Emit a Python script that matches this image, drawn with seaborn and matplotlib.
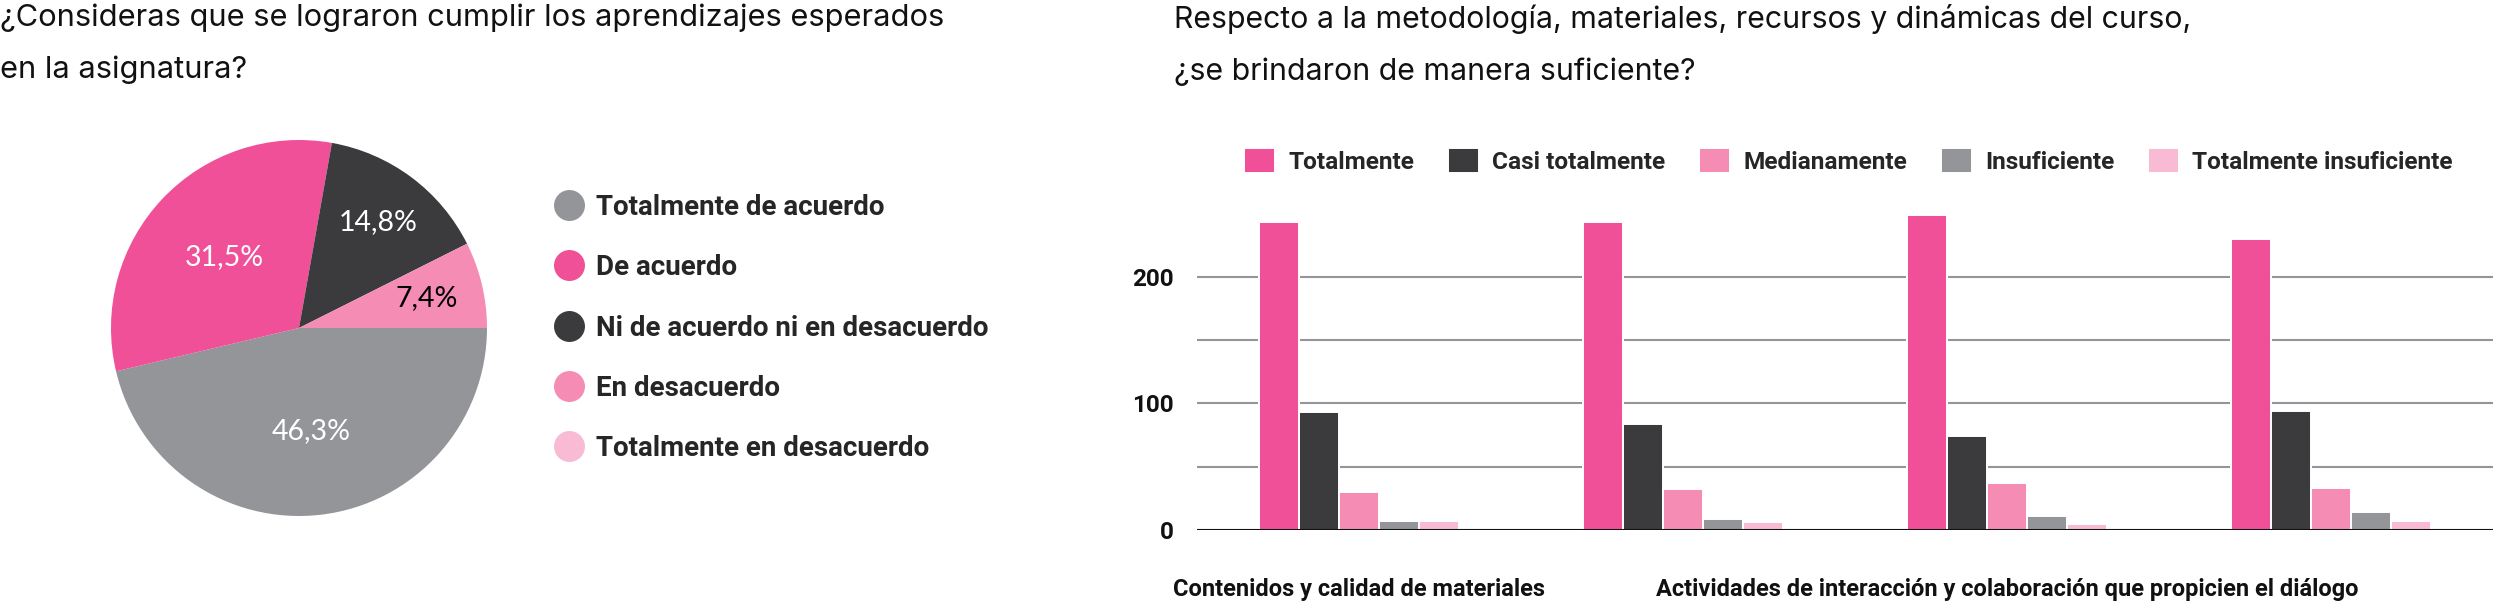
import numpy as np
import pandas as pd
import matplotlib.pyplot as plt
import seaborn as sns
from matplotlib.lines import Line2D

sns.set_style("white")
plt.rcParams["font.family"] = ["Inter", "DejaVu Sans"]

# ---------------------------------------------------------------
# Data: pie (aprendizajes esperados)
# ---------------------------------------------------------------
pie_title = "¿Consideras que se lograron cumplir los aprendizajes esperados\nen la asignatura?"
pie_labels = ["Totalmente de acuerdo", "De acuerdo", "Ni de acuerdo ni en desacuerdo",
              "En desacuerdo", "Totalmente en desacuerdo"]
pie_pct = [46.3, 31.5, 14.8, 7.4, 0.0]
pie_colors = ["#939598", "#EF5098", "#3B3B3D", "#F48CB4", "#F8BBD3"]
pie_text_colors = ["white", "white", "white", "black", "black"]

# ---------------------------------------------------------------
# Data: bars (metodologia, materiales, recursos y dinamicas)
# ---------------------------------------------------------------
bar_title = "Respecto a la metodología, materiales, recursos y dinámicas del curso,\n¿se brindaron de manera suficiente?"
aspectos = ["Contenidos y calidad de materiales", "Aspecto 2",
            "Actividades de interacción y colaboración que propicien el diálogo", "Aspecto 4"]
tick_labels = ["Contenidos y calidad de materiales", "",
               "Actividades de interacción y colaboración que propicien el diálogo", ""]
niveles = ["Totalmente", "Casi totalmente", "Medianamente", "Insuficiente", "Totalmente insuficiente"]
totalmente = [243, 243, 249, 230]
casi_totalmente = [93, 84, 74, 94]
medianamente = [30, 32, 37, 33]
insuficiente = [7, 9, 11, 14]
totalmente_insuficiente = [7, 6, 5, 7]
bar_colors = ["#EF5098", "#3B3B3D", "#F48CB4", "#939598", "#F8BBD3"]
y_ticks = [0, 50, 100, 150, 200]
y_ticklabels = ["0", "", "100", "", "200"]

series = [totalmente, casi_totalmente, medianamente, insuficiente, totalmente_insuficiente]
rows = []
for nivel, vals in zip(niveles, series):
    for asp, v in zip(aspectos, vals):
        rows.append({"aspecto": asp, "nivel": nivel, "respuestas": v})
df = pd.DataFrame(rows)

W, H = 2500, 604
fig = plt.figure(figsize=(W / 100, H / 100), dpi=100)

# ---------------------------------------------------------------
# Pie chart
# ---------------------------------------------------------------
ax1 = fig.add_axes([111 / W, (H - 328 - 188) / H, 376 / W, 376 / H])
wedges, _ = ax1.pie(pie_pct, colors=pie_colors, startangle=0, counterclock=False,
                    radius=1.0, wedgeprops={"linewidth": 0})
ax1.set_xlim(-1, 1)
ax1.set_ylim(-1, 1)
ax1.set_aspect("equal")
ax1.axis("off")

label_dist = [0.55, 0.55, 0.70, 0.70, 0.70]
for w, p, d, tc in zip(wedges, pie_pct, label_dist, pie_text_colors):
    if p <= 0:
        continue
    ang = np.deg2rad((w.theta1 + w.theta2) / 2)
    ax1.text(d * np.cos(ang), d * np.sin(ang), f"{p:.1f}%".replace(".", ","),
             ha="center", va="center", color=tc, fontsize=20.5, family=["Lato", "DejaVu Sans"])

pie_handles = [Line2D([], [], marker="o", linestyle="", markersize=22.3,
                      markerfacecolor=c, markeredgewidth=0) for c in pie_colors]
fig.legend(pie_handles, pie_labels, loc="center left",
           bbox_to_anchor=(553 / W, (H - 328) / H), frameon=False,
           prop={"family": ["Roboto", "DejaVu Sans"], "weight": "bold", "size": 20},
           handlelength=1.12, handletextpad=0.42, labelspacing=1.2, borderpad=0,
           borderaxespad=0, numpoints=1)

fig.text(0, 1 - 4 / H, pie_title, ha="left", va="top", fontsize=22.2, color="#111111",
         linespacing=2.0)

# ---------------------------------------------------------------
# Grouped bar chart
# ---------------------------------------------------------------
ax2 = fig.add_axes([1197 / W, (H - 530) / H, 1296 / W, 329.4 / H])
sns.barplot(data=df, x="aspecto", y="respuestas", hue="nivel", order=aspectos,
            hue_order=niveles, palette=bar_colors, width=0.62, saturation=1,
            edgecolor="white", linewidth=1.4, ax=ax2, zorder=3)
handles, labels = ax2.get_legend_handles_labels()
if ax2.get_legend() is not None:
    ax2.get_legend().remove()

ax2.set_xlim(-0.5, 3.5)
ax2.set_ylim(0, 260)
ax2.set_yticks(y_ticks)
ax2.set_yticklabels(y_ticklabels)
ax2.set_xticks(range(len(aspectos)))
ax2.set_xticklabels(tick_labels)
ax2.set_xlabel("")
ax2.set_ylabel("")
for s in ax2.spines.values():
    s.set_visible(False)
ax2.yaxis.grid(True, color="#939598", linewidth=1.5, zorder=0)
ax2.set_axisbelow(True)
ax2.axhline(0, color="#111111", linewidth=2.2, zorder=5)
ax2.tick_params(axis="y", length=0, pad=17, labelsize=17.5)
ax2.tick_params(axis="x", length=0, pad=34.5, labelsize=17)
for t in ax2.get_yticklabels() + ax2.get_xticklabels():
    t.set_family(["Roboto", "DejaVu Sans"])
    t.set_fontweight("bold")
    t.set_color("#111111")

fig.legend(handles, labels, loc="center left", ncol=5,
           bbox_to_anchor=(1244 / W, (H - 161) / H), frameon=False,
           prop={"family": ["Roboto", "DejaVu Sans"], "weight": "bold", "size": 17.6},
           handlelength=1.27, handleheight=1.22, handletextpad=0.55, columnspacing=1.37,
           borderpad=0, borderaxespad=0)

fig.text(1174 / W, 1 - 4 / H, bar_title, ha="left", va="top", fontsize=21.8, color="#111111",
         linespacing=2.03)

fig.savefig("out.png", dpi=100, facecolor="white")
